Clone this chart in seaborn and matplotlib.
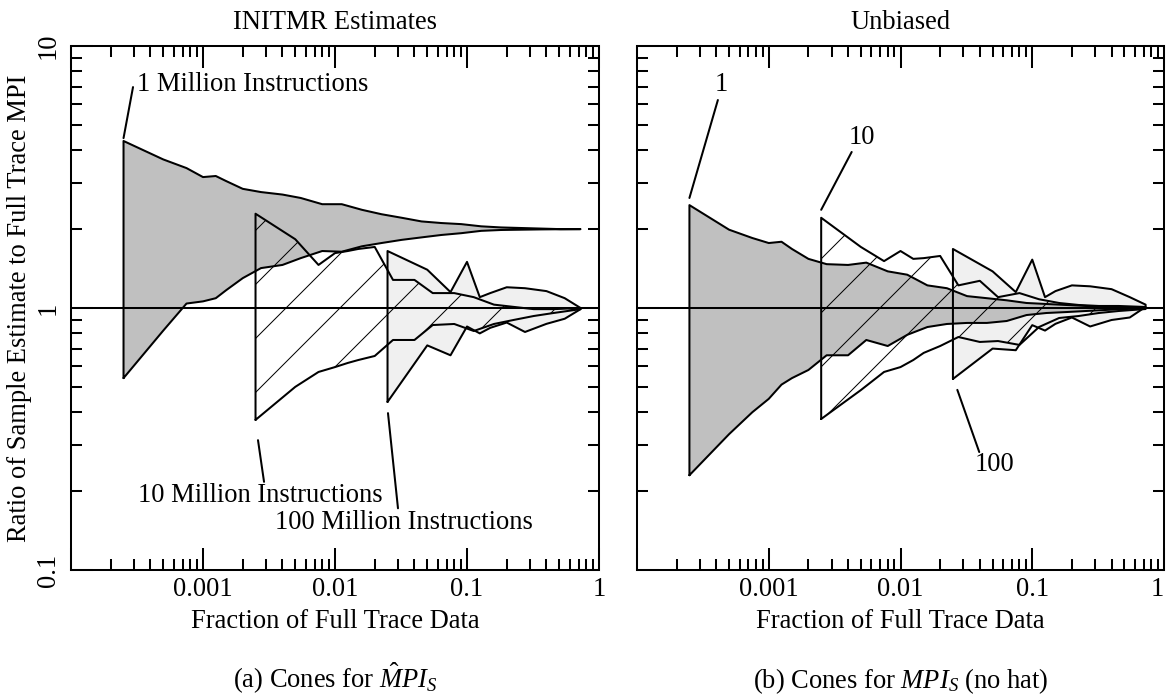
import matplotlib
matplotlib.use("Agg")
import matplotlib.pyplot as plt
import seaborn as sns
import pandas as pd
from matplotlib.ticker import FixedLocator, FixedFormatter, LogLocator, NullFormatter

# ---------------- data ----------------
# sample fractions of the full trace (1M, 10M, 100M instruction samples)
c1_x = [2.5e-4, 5e-4, 7.5e-4, 1e-3, 1.25e-3, 1.5e-3, 2e-3, 2.75e-3, 4e-3, 5.5e-3,
        8e-3, 1.125e-2, 1.6e-2, 2.25e-2, 3.2e-2, 4.525e-2, 6.4e-2, 9.05e-2, 0.128,
        0.181, 0.256, 0.362, 0.512, 0.724]
c2_x = [2.5e-3, 5e-3, 7.5e-3, 1e-2, 1.25e-2, 1.5e-2, 2e-2, 2.75e-2, 4e-2, 5.5e-2,
        8e-2, 0.1125, 0.16, 0.225, 0.32, 0.4525, 0.725]
c3_x = [2.5e-2, 5e-2, 7.5e-2, 0.1, 0.125, 0.15, 0.2, 0.275, 0.4, 0.55, 0.725]

# (a) INITMR estimates
a_c1_hi = [4.34, 3.69, 3.42, 3.16, 3.19, 3.05, 2.85, 2.77, 2.71, 2.63, 2.49, 2.49,
           2.37, 2.28, 2.21, 2.14, 2.11, 2.09, 2.05, 2.03, 2.02, 2.01, 2.00, 2.00]
a_c1_lo = [0.54, 0.82, 1.04, 1.06, 1.09, 1.17, 1.30, 1.42, 1.46, 1.55, 1.65, 1.64,
           1.72, 1.77, 1.82, 1.86, 1.90, 1.93, 1.97, 1.985, 1.99, 1.995, 1.998, 2.0]
a_c2_hi = [2.29, 1.83, 1.46, 1.62, 1.65, 1.68, 1.71, 1.28, 1.28, 1.14, 1.14, 1.10,
           1.03, 1.01, 0.99, 0.99, 1.0]
a_c2_lo = [0.374, 0.50, 0.57, 0.595, 0.617, 0.633, 0.656, 0.755, 0.755, 0.861,
           0.869, 0.817, 0.869, 0.90, 0.932, 0.957, 0.99]
a_c3_hi = [1.65, 1.40, 1.15, 1.50, 1.10, 1.14, 1.20, 1.19, 1.16, 1.09, 1.0]
a_c3_lo = [0.438, 0.72, 0.66, 0.85, 0.80, 0.84, 0.88, 0.81, 0.87, 0.91, 0.99]

# (b) Unbiased
b_c1_hi = [2.47, 1.99, 1.85, 1.77, 1.79, 1.68, 1.54, 1.47, 1.46, 1.49, 1.38, 1.34,
           1.22, 1.19, 1.11, 1.09, 1.07, 1.045, 1.036, 1.027, 1.018, 1.009, 1.004, 1.0]
b_c1_lo = [0.23, 0.33, 0.40, 0.45, 0.51, 0.54, 0.58, 0.66, 0.66, 0.755, 0.716, 0.79,
           0.846, 0.869, 0.877, 0.877, 0.892, 0.94, 0.957, 0.965, 0.974, 0.983, 0.991, 1.0]
b_c2_hi = [2.21, 1.71, 1.51, 1.65, 1.54, 1.55, 1.58, 1.22, 1.27, 1.10, 1.14, 1.08,
           1.045, 1.027, 1.018, 1.018, 1.009]
b_c2_lo = [0.377, 0.486, 0.57, 0.595, 0.633, 0.674, 0.716, 0.775, 0.742, 0.748,
           0.723, 0.846, 0.916, 0.932, 0.957, 0.974, 0.991]
b_c3_hi = [1.68, 1.38, 1.15, 1.53, 1.10, 1.16, 1.22, 1.21, 1.18, 1.10, 1.03]
b_c3_lo = [0.536, 0.70, 0.69, 0.86, 0.82, 0.87, 0.92, 0.85, 0.90, 0.92, 1.01]

x_ticks = [1e-4, 1e-3, 1e-2, 1e-1, 1]
x_tick_labels = ["", "0.001", "0.01", "0.1", "1"]
y_ticks = [0.1, 1, 10]
y_tick_labels = ["0.1", "1", "10"]

# ---------------- style ----------------
sns.set_theme(style="ticks")
FS = 11.8
plt.rcParams["font.family"] = ["Liberation Serif", "DejaVu Serif"]
plt.rcParams["mathtext.fontset"] = "custom"
plt.rcParams["mathtext.rm"] = "Liberation Serif"
plt.rcParams["mathtext.it"] = "Liberation Serif:italic"
plt.rcParams["hatch.linewidth"] = 0.45
plt.rcParams["axes.linewidth"] = 0.9

DPI = 162
W, H = 1167, 696
fig = plt.figure(figsize=(W / DPI, H / DPI), dpi=DPI)
fig.patch.set_facecolor("white")

ax_l = fig.add_axes([71 / W, 1 - 570 / H, 528 / W, 524 / H])
ax_r = fig.add_axes([637 / W, 1 - 570 / H, 527 / W, 524 / H])

LW = 0.9
GRAY = "#c0c0c0"
LIGHT = "#f0f0f0"


def outline(ax, x, lo, hi, z):
    xs = [x[0]] + list(x) + list(x[::-1])
    ys = [lo[0]] + list(hi) + list(lo[::-1])
    df = pd.DataFrame({"x": xs, "y": ys})
    sns.lineplot(data=df, x="x", y="y", ax=ax, sort=False, estimator=None,
                 color="black", linewidth=LW, zorder=z)


def draw_panel(ax, c1lo, c1hi, c2lo, c2hi, c3lo, c3hi):
    ax.set_xscale("log")
    ax.set_yscale("log")
    ax.fill_between(c3_x, c3lo, c3hi, facecolor=LIGHT, edgecolor="none", zorder=1)
    ax.fill_between(c1_x, c1lo, c1hi, facecolor=GRAY, edgecolor="none", zorder=2)
    ax.fill_between(c2_x, c2lo, c2hi, facecolor="none", edgecolor="black",
                    hatch="/", linewidth=0, zorder=3)
    outline(ax, c3_x, c3lo, c3hi, 4)
    outline(ax, c1_x, c1lo, c1hi, 4)
    outline(ax, c2_x, c2lo, c2hi, 4)
    ax.axhline(1, color="black", linewidth=LW, zorder=5)

    ax.set_xlim(1e-4, 1)
    ax.set_ylim(0.1, 10)
    ax.xaxis.set_major_locator(FixedLocator(x_ticks))
    ax.xaxis.set_major_formatter(FixedFormatter(x_tick_labels))
    ax.xaxis.set_minor_locator(LogLocator(base=10, subs=range(2, 10), numticks=20))
    ax.xaxis.set_minor_formatter(NullFormatter())
    ax.yaxis.set_major_locator(FixedLocator(y_ticks))
    ax.yaxis.set_major_formatter(FixedFormatter(y_tick_labels))
    ax.yaxis.set_minor_locator(LogLocator(base=10, subs=range(2, 10), numticks=20))
    ax.yaxis.set_minor_formatter(NullFormatter())
    ax.tick_params(which="both", direction="in", top=True, right=True,
                   width=0.9, color="black", labelsize=FS, labelcolor="black")
    ax.tick_params(which="major", length=9.8, pad=3)
    ax.tick_params(which="minor", length=4.7)
    ax.tick_params(axis="y", which="major", pad=4.5)
    for sp in ax.spines.values():
        sp.set_visible(True)
        sp.set_color("black")
        sp.set_linewidth(0.9)
    ax.set_xlabel("Fraction of Full Trace Data", fontsize=FS, color="black", labelpad=3)
    ax.set_ylabel("")
    ax.set_facecolor("white")
    ax.grid(False)


draw_panel(ax_l, a_c1_lo, a_c1_hi, a_c2_lo, a_c2_hi, a_c3_lo, a_c3_hi)
draw_panel(ax_r, b_c1_lo, b_c1_hi, b_c2_lo, b_c2_hi, b_c3_lo, b_c3_hi)

for lbl in ax_l.get_yticklabels():
    lbl.set_rotation(90)
    lbl.set_va("center")
ax_r.tick_params(axis="y", labelleft=False)
ax_r.xaxis.get_majorticklabels()[-1].set_ha("right")

ax_l.set_title("INITMR Estimates", fontsize=FS, color="black", pad=7.5)
ax_r.set_title("Unbiased", fontsize=FS, color="black", pad=7.5)

fig.text(20 / W, 1 - 308 / H, "Ratio of Sample Estimate to Full Trace MPI",
         rotation=90, ha="center", va="center", fontsize=FS, color="black")

# annotations, panel (a)
ax_l.plot([2.95e-4, 2.5e-4], [6.97, 4.45], color="black", lw=LW, zorder=6)
ax_l.text(3.16e-4, 7.1, "1 Million Instructions", fontsize=FS, ha="left",
          va="center", color="black")
ax_l.plot([2.61e-3, 2.9e-3], [0.313, 0.217], color="black", lw=LW, zorder=6)
ax_l.text(2.7e-3, 0.193, "10 Million Instructions", fontsize=FS, ha="center",
          va="center", color="black")
ax_l.plot([0.0252, 0.030], [0.397, 0.172], color="black", lw=LW, zorder=6)
ax_l.text(0.033, 0.152, "100 Million Instructions", fontsize=FS, ha="center",
          va="center", color="black")

# annotations, panel (b)
ax_r.plot([4.11e-4, 2.5e-4], [6.22, 2.63], color="black", lw=LW, zorder=6)
ax_r.text(4.4e-4, 7.1, "1", fontsize=FS, ha="center", va="center", color="black")
ax_r.plot([4.26e-3, 2.5e-3], [3.94, 2.37], color="black", lw=LW, zorder=6)
ax_r.text(5.07e-3, 4.46, "10", fontsize=FS, ha="center", va="center", color="black")
ax_r.plot([0.027, 0.0396], [0.487, 0.282], color="black", lw=LW, zorder=6)
ax_r.text(0.0515, 0.252, "100", fontsize=FS, ha="center", va="center", color="black")

# captions
fig.text((71 + 264) / W, 8 / H, r"(a) Cones for $\hat{M}PI_S$",
         ha="center", va="baseline", fontsize=FS, color="black")
fig.text((637 + 264) / W, 8 / H, r"(b) Cones for $MPI_S$ (no hat)",
         ha="center", va="baseline", fontsize=FS, color="black")

fig.savefig("out.png", dpi=DPI, facecolor="white")
